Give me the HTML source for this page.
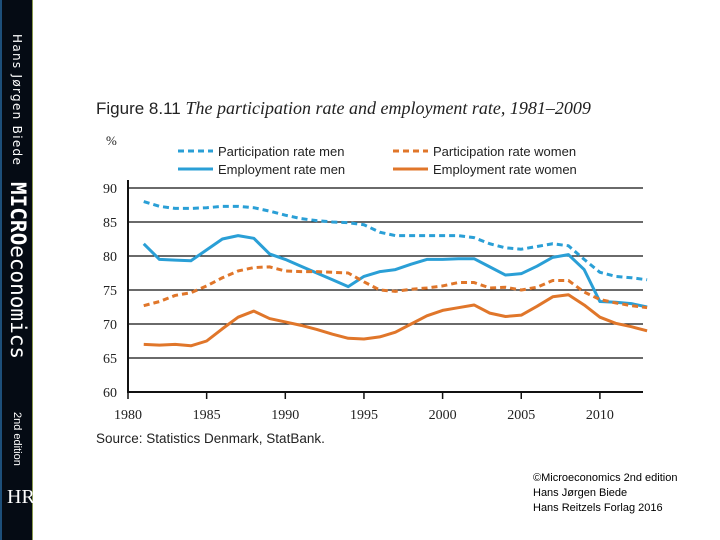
<!DOCTYPE html>
<html><head><meta charset="utf-8"><style>
body{margin:0;width:720px;height:540px;background:#fff;overflow:hidden;position:relative;font-family:"Liberation Sans",sans-serif}
#side{position:absolute;left:0;top:0;width:33px;height:540px;background:#050b14;border-left:2px solid #1d4f7a;border-right:1px solid #8a9a50;box-sizing:border-box}
.vt{position:absolute;left:16px;transform-origin:0 0;transform:rotate(90deg);color:#fff;white-space:nowrap}
.cp{position:absolute;left:533px;font-size:11px;color:#000}
</style></head><body>
<div id="side">
<div class="vt" style="top:34px;left:22px;font-size:12px;letter-spacing:1.3px;font-family:'DejaVu Sans',sans-serif">Hans Jørgen Biede</div>
<div class="vt" style="top:182px;left:28px;font-size:21px;font-family:'DejaVu Sans Mono',monospace"><b>MICRO</b>economics</div>
<div class="vt" style="top:412px;left:21px;font-size:11px">2nd edition</div>
<div style="position:absolute;left:5px;top:486px;color:#fff;font-family:'Liberation Serif',serif;font-size:20px">HR</div>
</div>
<svg width="720" height="540" style="position:absolute;left:0;top:0">
<text x="96" y="114" font-family="Liberation Sans" font-size="17" fill="#222">Figure 8.11 <tspan font-family="Liberation Serif" font-style="italic" font-size="18">  The participation rate and employment rate, 1981–2009</tspan></text>
<text x="106" y="145" font-size="13" fill="#222" font-family="Liberation Serif">%</text>
<g id="grid"></g><g id="series"></g><g id="legend"></g>
<text x="96" y="443" font-family="Liberation Sans" font-size="13.5" fill="#222">Source: Statistics Denmark, StatBank.</text>
</svg>
<div class="cp" style="top:472px">©Microeconomics 2nd edition</div>
<div class="cp" style="top:487px">Hans Jørgen Biede</div>
<div class="cp" style="top:502px">Hans Reitzels Forlag 2016</div>
<script>
const years=[];for(let y=1981;y<=2013;y++)years.push(y);
const partMen=[88.0,87.3,87.0,87.0,87.1,87.3,87.3,87.1,86.6,86.0,85.5,85.2,85.0,84.9,84.6,83.5,83.0,83.0,83.0,83.0,83.0,82.7,81.8,81.2,81.0,81.4,81.8,81.5,79.5,77.6,77.0,76.8,76.5];
const empMen=[81.8,79.5,79.4,79.3,80.9,82.5,83.0,82.6,80.3,79.5,78.5,77.5,76.5,75.5,77.0,77.7,78.0,78.8,79.5,79.5,79.6,79.6,78.4,77.2,77.4,78.5,79.8,80.2,78.0,73.3,73.2,73.0,72.5];
const partWomen=[72.7,73.3,74.2,74.6,75.6,76.8,77.8,78.3,78.4,77.8,77.7,77.7,77.6,77.5,76.2,75.0,74.8,75.1,75.3,75.6,76.1,76.1,75.3,75.4,75.0,75.4,76.4,76.4,74.7,73.6,73.1,72.7,72.4];
const empWomen=[67.0,66.9,67.0,66.8,67.5,69.3,71.0,71.9,70.8,70.3,69.8,69.2,68.5,67.9,67.8,68.1,68.8,70.0,71.2,72.0,72.4,72.8,71.6,71.1,71.3,72.6,74.0,74.3,72.8,71.0,70.1,69.6,69.0];
const yTicks=[60,65,70,75,80,85,90];
const xTicks=[1980,1985,1990,1995,2000,2005,2010];
const X=v=>128+(v-1980)*15.73, Y=v=>392-(v-60)*6.8;
const NS="http://www.w3.org/2000/svg";
function mk(p,t,a){const e=document.createElementNS(NS,t);for(const k in a)e.setAttribute(k,a[k]);p.appendChild(e);return e;}
const g=document.getElementById('grid');
yTicks.forEach(v=>{
 if(v>60){const l=mk(g,'line',{x1:128,x2:643,y1:Y(v),y2:Y(v),stroke:'#111','stroke-width':1.2});
 
 }
 const t=mk(g,'text',{x:117,y:Y(v)+5,'text-anchor':'end','font-size':14,'font-family':'Liberation Serif',fill:'#222'});t.textContent=v;
 
 
});
const ax=mk(g,'path',{d:`M128 180V392H643`,fill:'none',stroke:'#111','stroke-width':2});


xTicks.forEach(v=>{
 mk(g,'line',{x1:X(v),x2:X(v),y1:392,y2:399,stroke:'#111','stroke-width':1.5});
 const t=mk(g,'text',{x:X(v),y:419,'text-anchor':'middle','font-size':14,'font-family':'Liberation Serif',fill:'#222'});t.textContent=v;
 
 
});
const s=document.getElementById('series');
const blue='#2a9fd6',orange='#e0762a';
[[partMen,blue,true,'participation-men-line'],[empMen,blue,false,'employment-men-line'],[partWomen,orange,true,'participation-women-line'],[empWomen,orange,false,'employment-women-line']].forEach(([d,c,dash,n])=>{
 const p=mk(s,'polyline',{points:d.map((v,i)=>X(years[i])+','+Y(v)).join(' '),fill:'none',stroke:c,'stroke-width':3,'stroke-linejoin':'round','stroke-dasharray':dash?'6,4':'none'});
 
 
});
const lg=document.getElementById('legend');
[['Participation rate men',blue,true,178,151],['Employment rate men',blue,false,178,169],['Participation rate women',orange,true,393,151],['Employment rate women',orange,false,393,169]].forEach(([t,c,d,x,y])=>{
 const gg=mk(lg,'g',{});
 
 
 mk(gg,'line',{x1:x,x2:x+35,y1:y,y2:y,stroke:c,'stroke-width':3,'stroke-dasharray':d?'6,4':'none'});
 const tx=mk(gg,'text',{x:x+40,y:y+5,'font-size':13,'font-family':'Liberation Sans',fill:'#222'});tx.textContent=t;
});
</script>
</body></html>
